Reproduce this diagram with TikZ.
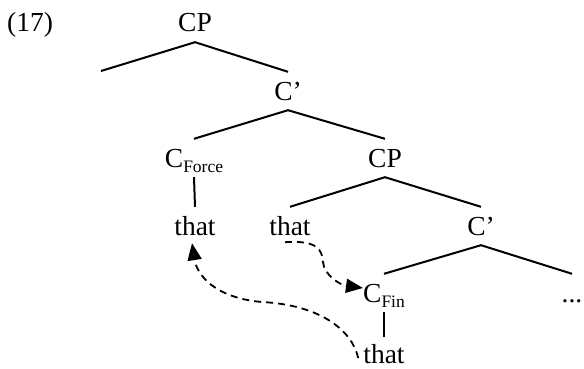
\documentclass[tikz,border=0pt]{standalone}
\usepackage{fontspec}
\setmainfont{Liberation Serif}
\usetikzlibrary{arrows.meta}
\newcommand{\sbs}[1]{\raisebox{-5pt}{\fontsize{17.5}{20}\selectfont #1}}
\tikzset{
  lbl/.style={inner xsep=0pt, inner ysep=10pt, text height=18pt, text depth=0pt,
    anchor=base, font=\fontsize{27.5}{30}\selectfont},
  exnum/.style={inner sep=0pt, anchor=base west, font=\fontsize{27.5}{30}\selectfont},
  branch/.style={line width=2pt},
  mv/.style={dash pattern=on 7pt off 5pt, line width=1.8pt,
    -{Triangle[length=17pt,width=14pt]}}
}
\begin{document}
\begin{tikzpicture}[x=1pt,y=-1pt]
  \useasboundingbox (0,0) rectangle (584,369);
  \node[exnum] (ex) at (7,32) {(17)};
  \node[lbl] (cp1) at (195,32) {CP};
  \coordinate (spec) at (101,71);
  \node[lbl] (cbar1) at (288,100) {C’};
  \node[lbl] (cforce) at (194,167) {C\sbs{Force}};
  \node[lbl] (cp2) at (385,167) {CP};
  \node[lbl] (that1) at (195,235) {that};
  \node[lbl] (that2) at (290,235) {that};
  \node[lbl] (cbar2) at (481,235) {C’};
  \node[lbl] (cfin) at (384,302) {C\sbs{Fin}};
  \node[lbl] (dots) at (572,302) {...};
  \node[lbl, inner ysep=8pt] (that3) at (384,363) {that};

  \draw[branch] (spec) -- (cp1.south) -- (cbar1.north);
  \draw[branch] (cforce.north) -- (cbar1.south) -- (cp2.north);
  \draw[branch] (cforce.south) -- (that1.north);
  \draw[branch] (that2.north) -- (cp2.south) -- (cbar2.north);
  \draw[branch] (cfin.north) -- (cbar2.south) -- (dots.north);
  \draw[branch] (cfin.south) -- (that3.north);

  \draw[mv] ([shift={(-5pt,3pt)}]that2.south) .. controls (318,240) and (322,250) .. (323,262)
     .. controls (324,275) and (340,285) .. ([yshift=5pt]cfin.west);
  \draw[mv] ([shift={(-5pt,5pt)}]that3.base west) .. controls (352,330) and (320,305) .. (262,302)
     .. controls (215,298) and (197,275) .. ([shift={(-3pt,2pt)}]that1.south);
\end{tikzpicture}
\end{document}
